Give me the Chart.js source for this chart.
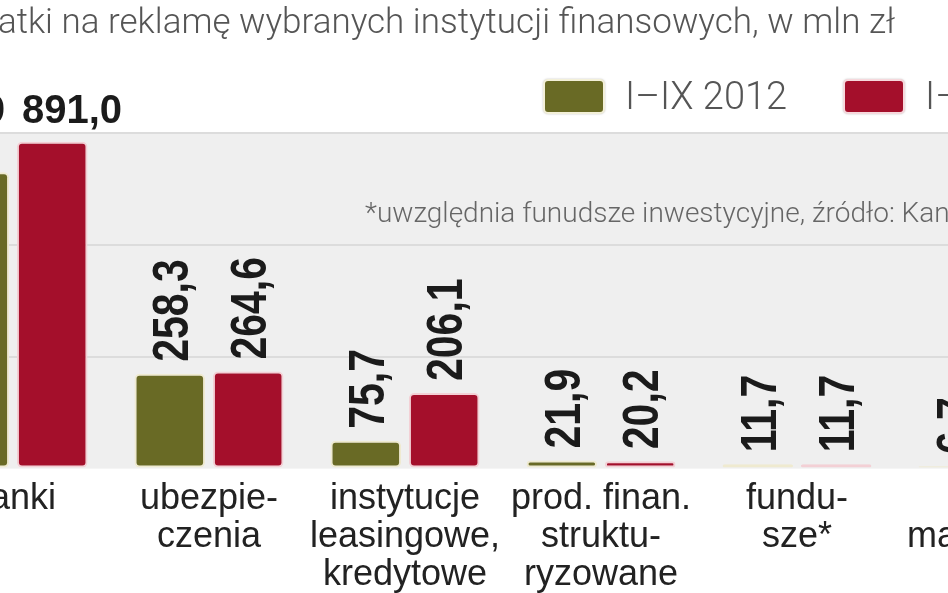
<!DOCTYPE html>
<html>
<head>
<meta charset="utf-8">
<script src="https://cdn.jsdelivr.net/npm/chart.js@4/dist/chart.umd.min.js"></script>
<style>
html, body { margin:0; padding:0; background:#fff; }
body { width:948px; height:593px; overflow:hidden; position:relative; font-family:Roboto, "Liberation Sans", sans-serif; }
#chart { position:absolute; left:-85px; top:0; z-index:0; }
#title { position:absolute; right:53px; top:2px; white-space:nowrap; font-size:35px; font-weight:300; color:#555; line-height:40px; z-index:2; }
.box { position:absolute; width:58px; height:31px; border:2px solid; border-radius:5px; box-shadow:0 0 2px rgba(0,0,0,0.25); z-index:2; }
.lab { position:absolute; white-space:nowrap; font-size:38px; font-weight:300; color:#555; line-height:40px; z-index:2; }
#note { position:absolute; left:365px; top:196px; white-space:nowrap; font-size:28px; font-weight:300; color:#666; z-index:2; }
</style>
</head>
<body>
<canvas id="chart" width="1176" height="601"></canvas>
<div id="title">Wydatki na reklamę wybranych instytucji finansowych, w mln zł</div>
<div class="box" style="left:543px;top:79px;background:#696a25;border-color:#f3f0d9"></div>
<div class="lab" id="lab0" style="left:625px;top:76px"></div>
<div class="box" style="left:843px;top:79px;background:#a40f2b;border-color:#f6d8dc"></div>
<div class="lab" id="lab1" style="left:925px;top:76px"></div>
<div id="note">*uwzględnia funudsze inwestycyjne, źródło: Kantar Media</div>
<script>
// dane z wykresu (mln zł)
var categories = [
	['banki'],
	['ubezpie-', 'czenia'],
	['instytucje', 'leasingowe,', 'kredytowe'],
	['prod. finan.', 'struktu-', 'ryzowane'],
	['fundu-', 'sze*'],
	['domy', 'maklerskie']
];
var seriesNames = ['I–IX 2012', 'I–IX 2013'];
var values2012 = [807.9, 258.3, 75.7, 21.9, 11.7, 6.7];
var values2013 = [891.0, 264.6, 206.1, 20.2, 11.7, 5.8];
var yMax = 915;
var yStep = 305;

document.getElementById('lab0').textContent = seriesNames[0];
document.getElementById('lab1').textContent = seriesNames[1];

var plotBackground = {
	id: 'plotBackground',
	beforeDraw: function(chart) {
		var a = chart.chartArea;
		var ctx = chart.ctx;
		ctx.save();
		ctx.fillStyle = '#efefef';
		ctx.fillRect(a.left, a.top, a.right - a.left, a.bottom - a.top);
		ctx.restore();
	}
};

var valueLabels = {
	id: 'valueLabels',
	afterDatasetsDraw: function(chart) {
		var ctx = chart.ctx;
		ctx.save();
		ctx.fillStyle = '#1b1b1b';
		chart.data.datasets.forEach(function(ds, di) {
			var meta = chart.getDatasetMeta(di);
			meta.data.forEach(function(bar, i) {
				var v = ds.data[i];
				var txt = v.toFixed(1).replace('.', ',');
				if (v > 500) {
					// duze wartosci poziomo nad para slupkow
					var top = Math.min(chart.getDatasetMeta(0).data[i].y, chart.getDatasetMeta(1).data[i].y);
					ctx.font = 'bold 40px "Liberation Sans", sans-serif';
					ctx.textBaseline = 'alphabetic';
					if (di === 0) {
						ctx.textAlign = 'right';
						ctx.fillText(txt, bar.x + bar.width / 2 - 4, top - 19);
					} else {
						ctx.textAlign = 'left';
						ctx.fillText(txt, bar.x - bar.width / 2 + 5, top - 19);
					}
				} else {
					ctx.save();
					ctx.translate(bar.x, bar.y - 12);
					ctx.rotate(-Math.PI / 2);
					ctx.scale(0.82, 1);
					ctx.font = 'bold 50px "Liberation Sans", sans-serif';
					ctx.textAlign = 'left';
					ctx.textBaseline = 'alphabetic';
					ctx.fillText(txt, 0, 18);
					ctx.restore();
				}
			});
		});
		ctx.restore();
	}
};

var ctx = document.getElementById('chart').getContext('2d');
new Chart(ctx, {
	type: 'bar',
	data: {
		labels: categories,
		datasets: [{
			label: seriesNames[0],
			data: values2012,
			backgroundColor: '#696a25',
			borderColor: '#efead0',
			borderWidth: 2,
			borderRadius: 5,
			borderSkipped: false,
			categoryPercentage: 0.8,
			barPercentage: 0.9
		}, {
			label: seriesNames[1],
			data: values2013,
			backgroundColor: '#a40f2b',
			borderColor: '#f3d0d5',
			borderWidth: 2,
			borderRadius: 5,
			borderSkipped: false,
			categoryPercentage: 0.8,
			barPercentage: 0.9
		}]
	},
	options: {
		responsive: false,
		animation: false,
		layout: { padding: { top: 133, left: 0, right: 0, bottom: 3 } },
		plugins: {
			legend: { display: false },
			title: { display: false },
			tooltip: { enabled: false }
		},
		scales: {
			x: {
				grid: { display: false },
				border: { display: false },
				ticks: {
					color: '#222',
					font: { family: '"Liberation Sans", Roboto, sans-serif', size: 36, lineHeight: 1.05 },
					padding: 4,
					maxRotation: 0,
					autoSkip: false
				}
			},
			y: {
				min: 0,
				max: yMax,
				ticks: { display: false, stepSize: yStep },
				border: { display: false },
				grid: {
					drawTicks: false,
					lineWidth: 2,
					color: function(c) { return c.tick && c.tick.value === 0 ? 'rgba(0,0,0,0)' : '#dcdcdc'; }
				}
			}
		}
	},
	plugins: [plotBackground, valueLabels]
});
</script>
</body>
</html>
